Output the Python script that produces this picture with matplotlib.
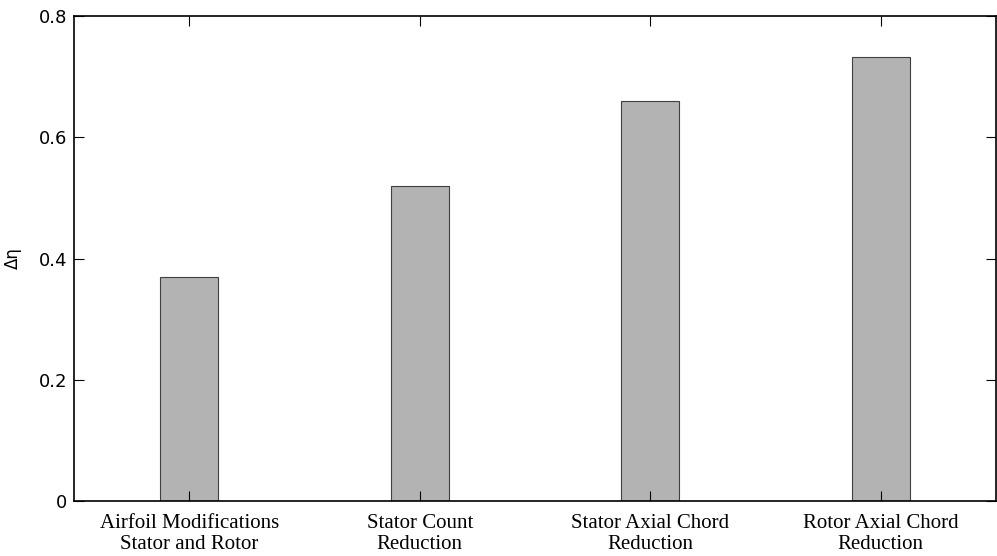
import numpy as np
import matplotlib
matplotlib.use('Agg')
import matplotlib.pyplot as plt

categories = ['Airfoil Modifications\nStator and Rotor',
              'Stator Count\nReduction',
              'Stator Axial Chord\nReduction',
              'Rotor Axial Chord\nReduction']
delta_eta = [0.37, 0.52, 0.66, 0.733]
y_ticks = [0, 0.2, 0.4, 0.6, 0.8]

fig = plt.figure(figsize=(9.97, 5.56), dpi=100)
ax = fig.add_axes([0.0742, 0.0989, 0.9248, 0.8723])

x = np.arange(1, len(categories) + 1)
ax.bar(x, delta_eta, width=0.25, color='#b3b3b3', edgecolor='#404040', linewidth=0.8)

ax.set_xlim(0.5, 4.5)
ax.set_ylim(0, 0.8)
ax.set_yticks(y_ticks)
ax.set_yticklabels(['0', '0.2', '0.4', '0.6', '0.8'], fontsize=13, family='DejaVu Sans')
ax.set_xticks(x)
ax.set_xticklabels(categories, fontsize=15, family='Liberation Serif', linespacing=1.15)
ax.tick_params(direction='in', top=True, right=True, length=7, width=0.8)
ax.tick_params(axis='x', pad=9)
ax.tick_params(axis='y', pad=5)
for s in ax.spines.values():
    s.set_linewidth(1.2)

ax.set_ylabel('Δη', fontsize=12, labelpad=12)

fig.savefig('out.png', dpi=100)
